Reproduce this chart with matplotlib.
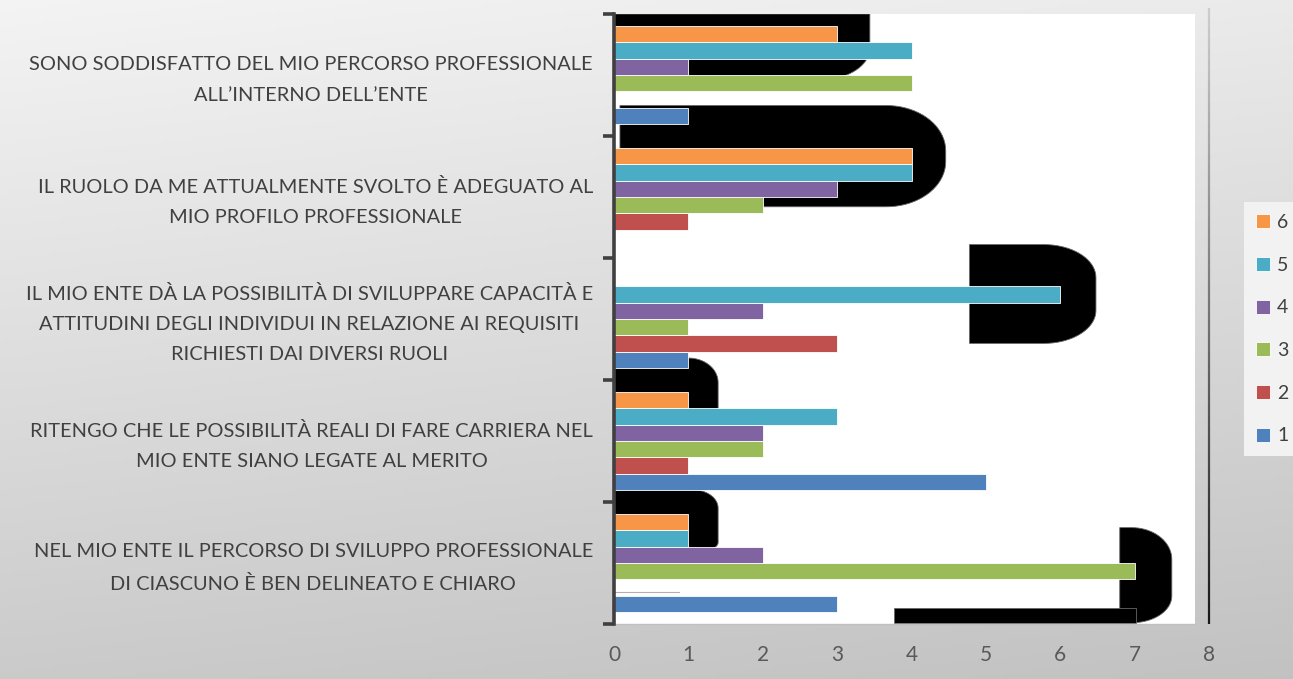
import numpy as np
import matplotlib
matplotlib.use("Agg")
import matplotlib.pyplot as plt
import matplotlib.transforms as mtransforms
from matplotlib.patches import Polygon, Rectangle
from matplotlib.collections import LineCollection

# ---------------- data ----------------
categories = [
    "NEL MIO ENTE IL PERCORSO DI SVILUPPO PROFESSIONALE\nDI CIASCUNO È BEN DELINEATO E CHIARO",
    "RITENGO CHE LE POSSIBILITÀ REALI DI FARE CARRIERA NEL\nMIO ENTE SIANO LEGATE AL MERITO",
    "IL MIO ENTE DÀ LA POSSIBILITÀ DI SVILUPPARE CAPACITÀ E\nATTITUDINI DEGLI INDIVIDUI IN RELAZIONE AI REQUISITI\nRICHIESTI DAI DIVERSI RUOLI",
    "IL RUOLO DA ME ATTUALMENTE SVOLTO È ADEGUATO AL\nMIO PROFILO PROFESSIONALE",
    "SONO SODDISFATTO DEL MIO PERCORSO PROFESSIONALE\nALL’INTERNO DELL’ENTE",
]
series_names = ["1", "2", "3", "4", "5", "6"]
s1 = [3, 5, 1, 0, 1]
s2 = [0, 1, 3, 1, 0]
s3 = [7, 2, 1, 2, 4]
s4 = [2, 2, 2, 3, 1]
s5 = [1, 3, 6, 4, 4]
s6 = [1, 1, 0, 4, 3]
series_values = [s1, s2, s3, s4, s5, s6]
x_ticks = [0, 1, 2, 3, 4, 5, 6, 7, 8]

colors = ["#4F81BD", "#C0504D", "#9BBB59", "#8064A2", "#4BACC6", "#F79646"]

# decorative black shapes seen behind the bars (x0, x1, ytop, ybot, top-right rx, ry, bottom-right rx, ry)
blobs = [
    (0.00, 3.44, 4.50, 3.96, 0.00, 0.00, 0.67, 0.26),
    (0.08, 4.46, 3.75, 2.92, 0.80, 0.37, 0.80, 0.37),
    (4.78, 6.48, 2.61, 1.80, 0.70, 0.27, 0.70, 0.27),
    (0.00, 1.40, 1.68, 1.21, 0.40, 0.20, 0.00, 0.00),
    (0.00, 1.40, 0.60, 0.12, 0.34, 0.15, 0.10, 0.05),
    (6.80, 7.50, 0.29, -0.49, 0.54, 0.26, 0.54, 0.22),
    (3.76, 7.02, -0.37, -0.49, 0.00, 0.00, 0.00, 0.00),
]

W, H = 1293, 679
fig = plt.figure(figsize=(W / 100, H / 100), dpi=100)

# background gradient
bg = fig.add_axes([0, 0, 1, 1], zorder=-10)
yy, xx = np.mgrid[0:1:200j, 0:1:300j]
grad = 0.955 - 0.16 * yy - 0.035 * xx
bg.imshow(np.dstack([grad, grad, grad]), aspect="auto", extent=[0, 1, 0, 1], origin="upper")
bg.set_axis_off()

left = 614 / W
right = 1209 / W
bottom = 1 - 624 / H
top = 1 - 14 / H
ax = fig.add_axes([left, bottom, right - left, top - bottom])
ax.set_facecolor("none")
ax.set_xlim(0, 8)
ax.set_ylim(-0.5, len(categories) - 0.5)
white_right = 8 * (1195 - 614) / (1209 - 614)

# white plot area
ax.add_patch(Rectangle((0, 0), (1195 - 614) / (1209 - 614), 1, transform=ax.transAxes,
                       facecolor="white", edgecolor="none", zorder=0))


def rounded_right(x0, x1, yt, yb, rtx, rty, rbx, rby, n=20):
    pts = [(x0, yb), (x0, yt)]
    if rtx > 0:
        cx, cy = x1 - rtx, yt - rty
        for t in np.linspace(np.pi / 2, 0, n):
            pts.append((cx + rtx * np.cos(t), cy + rty * np.sin(t)))
    else:
        pts.append((x1, yt))
    if rbx > 0:
        cx, cy = x1 - rbx, yb + rby
        for t in np.linspace(0, -np.pi / 2, n):
            pts.append((cx + rbx * np.cos(t), cy + rby * np.sin(t)))
    else:
        pts.append((x1, yb))
    return pts


for b in blobs:
    ax.add_patch(Polygon(rounded_right(*b), closed=True, facecolor="black",
                         edgecolor="#666666", linewidth=0.6, zorder=1))
# faint thin line seen in the bottom group
ax.plot([0, 0.88], [-0.24, -0.24], color="#b0b0b0", lw=0.8, zorder=1.5)

n = len(series_values)
h = 0.8 / n
y = np.arange(len(categories))
handles = []
for k, (vals, c, name) in enumerate(zip(series_values, colors, series_names)):
    bars = ax.barh(y + (k - (n - 1) / 2) * h, vals, height=h, color=c,
                   edgecolor="white", linewidth=0.6, label=name, zorder=2)
    handles.append(bars)

# right vertical line at x=8 with gradient
ys = np.linspace(-0.5, 4.55, 60)
segs = [[(8, ys[i]), (8, ys[i + 1])] for i in range(len(ys) - 1)]
shade = np.linspace(0.1, 0.8, len(segs))
lc = LineCollection(segs, colors=[(s, s, s) for s in shade], linewidths=1.6, zorder=3, clip_on=False)
ax.add_collection(lc)

# spines / ticks
for sp in ["top", "right"]:
    ax.spines[sp].set_visible(False)
ax.spines["bottom"].set_color("#c0c0c0")
ax.spines["bottom"].set_linewidth(1.0)
ax.spines["bottom"].set_bounds(0, white_right)
ax.spines["left"].set_color("#404040")
ax.spines["left"].set_linewidth(2.6)
ax.spines["left"].set_zorder(4)

# category labels (centered multi-line, right-aligned block)
ax.set_yticks(np.arange(-0.5, len(categories), 1))
ax.set_yticklabels([])
ax.tick_params(axis="y", length=8, width=2.6, color="#404040")
label_tr = ax.get_yaxis_transform() + mtransforms.ScaledTranslation(-21 / 100, -5 / 100, fig.dpi_scale_trans)
for yi, lab in zip(y, categories):
    ax.text(0, yi, lab, transform=label_tr, ha="right", va="center", ma="center",
            fontsize=14.4, color="#404040", family="Lato", linespacing=1.95)

ax.set_xticks(x_ticks)
ax.set_xticklabels([str(t) for t in x_ticks], fontsize=15, color="#595959", family="Lato")
ax.tick_params(axis="x", length=0, pad=15)

leg = fig.legend(handles[::-1], series_names[::-1], loc="upper left",
                 bbox_to_anchor=(1244 / W, 1 - 202 / H), frameon=True, fancybox=False,
                 facecolor="#f2f2f2", edgecolor="none", framealpha=1,
                 prop={"family": "Lato", "size": 14}, labelspacing=1.32,
                 handlelength=0.72, handleheight=0.72, handletextpad=0.36,
                 borderpad=0.62, borderaxespad=0)
for t in leg.get_texts():
    t.set_color("#404040")

fig.savefig("out.png", dpi=100)
